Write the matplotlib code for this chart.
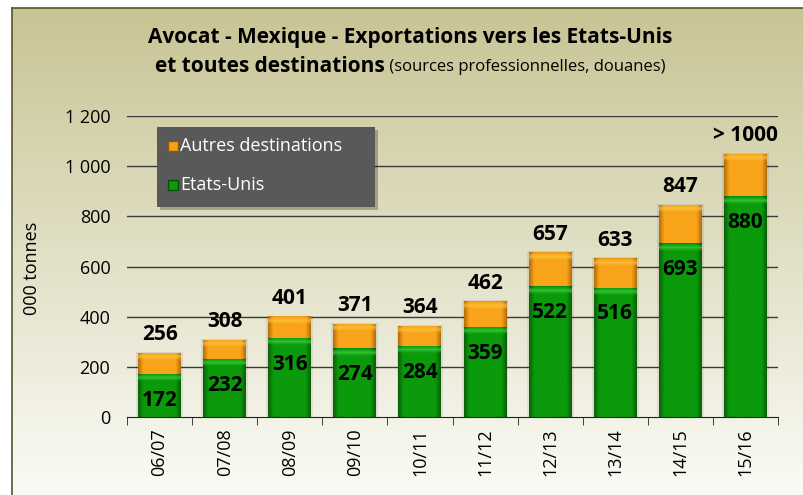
import numpy as np
import matplotlib
matplotlib.use('Agg')
from matplotlib import pyplot as plt
from matplotlib.patches import Rectangle
from matplotlib.colors import to_rgb

seasons = ['06/07', '07/08', '08/09', '09/10', '10/11', '11/12', '12/13', '13/14', '14/15', '15/16']
usa = [172, 232, 316, 274, 284, 359, 522, 516, 693, 880]
total = [256, 308, 401, 371, 364, 462, 657, 633, 847, 1050]
total_labels = ['256', '308', '401', '371', '364', '462', '657', '633', '847', '> 1000']
others = [t - u for t, u in zip(total, usa)]

W, H = 804, 495
fig = plt.figure(figsize=(W / 100, H / 100), dpi=100)

font_txt = ['Open Sans', 'DejaVu Sans']
font_title = ['Open Sans', 'DejaVu Sans']

# background with gradient + frame
bg = fig.add_axes([12 / W, 0, 1, 1 - 8 / H], zorder=-5)
top_c = np.array(to_rgb('#c8c494'))
bot_c = np.array(to_rgb('#fbfbf6'))
t = np.linspace(0, 1, 256)[:, None]
img = top_c * (1 - t[..., None]) + bot_c * t[..., None]
img = np.repeat(img, 2, axis=1)
bg.imshow(img, aspect='auto', extent=[0, 1, 0, 1])
bg.set_xlim(0, 1)
bg.set_ylim(0, 1)
bg.set_xticks([])
bg.set_yticks([])
for s in ['right', 'bottom']:
    bg.spines[s].set_visible(False)
for s in ['left', 'top']:
    bg.spines[s].set_color('#55552e')
    bg.spines[s].set_linewidth(1.2)

ax = fig.add_axes([127 / W, 1 - 417 / H, (778 - 127) / W, (417 - 116) / H])
ax.set_facecolor('none')
x = np.arange(len(seasons))
bw = 0.66


def grad_bar(bottom, height, dark, mid, light):
    bars = ax.bar(x, height, bw, bottom=bottom, color=mid, edgecolor='none', zorder=3)
    d = np.array(to_rgb(dark))
    m = np.array(to_rgb(mid))
    li = np.array(to_rgb(light))
    u = np.linspace(0, 1, 60)
    edge = np.clip(np.minimum(u, 1 - u) / 0.12, 0, 1)
    row = d * (1 - edge[:, None]) + m * edge[:, None]
    for b in bars:
        h = b.get_height()
        if h <= 0:
            continue
        px_h = max(int(h * 0.25), 4)
        v = np.linspace(0, 1, px_h)
        top = np.clip(1 - np.abs(v * px_h - 4) / 3.5, 0, 1) * 0.7
        im = row[None, :, :] * (1 - top[:, None, None]) + li * top[:, None, None]
        im[:1] = im[:1] * 0.8 + d * 0.2
        x0 = b.get_x()
        y0 = b.get_y()
        ax.add_patch(Rectangle((x0 - 0.03, y0), b.get_width() + 0.06, h + 3,
                               facecolor='#000000', alpha=0.08, edgecolor='none', zorder=2))
        art = ax.imshow(im, extent=[x0, x0 + b.get_width(), y0, y0 + h],
                        aspect='auto', zorder=4, interpolation='bilinear')
        art.set_clip_path(b)
    return bars


for yv in range(200, 1201, 200):
    ax.axhline(yv, color='#3a3a3a', lw=1, zorder=1)

grad_bar(0, usa, '#0a5f0a', '#0b9a0b', '#3fd23f')
grad_bar(usa, others, '#b56d0a', '#f9a41a', '#ffc73f')

ax.set_xlim(-0.5, len(seasons) - 0.5)
ax.set_ylim(0, 1200)

for i in range(len(seasons)):
    ax.annotate(str(usa[i]), (x[i], usa[i]), xytext=(0, -19), textcoords='offset points',
                ha='center', va='center', fontsize=15, fontweight='bold',
                family=font_txt, color='black', zorder=6)
    ax.annotate(total_labels[i], (x[i], total[i]), xytext=(0, 13), textcoords='offset points',
                ha='center', va='center', fontsize=15, fontweight='bold',
                family=font_txt, color='black', zorder=6)

ax.set_yticks(range(0, 1201, 200))
ax.set_yticklabels(['0', '200', '400', '600', '800', '1 000', '1 200'], family=font_txt, fontsize=13)
ax.tick_params(axis='y', length=0, pad=12)
ax.set_xticks(x)
ax.set_xticklabels(seasons, rotation=90, family=font_txt, fontsize=13)
ax.set_xticks(np.arange(-0.5, len(seasons), 1), minor=True)
ax.tick_params(axis='x', which='major', length=0, pad=8)
ax.tick_params(axis='x', which='minor', length=6, color='#222222', direction='out')
for s in ['left', 'right', 'top']:
    ax.spines[s].set_visible(False)
ax.spines['bottom'].set_color('#222222')
ax.spines['bottom'].set_zorder(5)

fig.text(32 / W, 1 - 268 / H, '000 tonnes', rotation=90, ha='center', va='center',
         family=font_txt, fontsize=13)

# title
fig.text(410 / W, 1 - 38 / H, 'Avocat - Mexique - Exportations vers les Etats-Unis',
         ha='center', va='center', fontsize=15, fontweight='bold', family=font_title)
t1 = fig.text(0, 1 - 67 / H, 'et toutes destinations', ha='left', va='center',
              fontsize=15, fontweight='bold', family=font_title)
t2 = fig.text(0, 1 - 67 / H, ' (sources professionnelles, douanes)', ha='left', va='center',
              fontsize=12, family=font_title)
fig.canvas.draw()
r = fig.canvas.get_renderer()
w1 = t1.get_window_extent(r).width
w2 = t2.get_window_extent(r).width
start = 410 - (w1 + w2) / 2
t1.set_x(start / W)
t2.set_x((start + w1) / W)

# legend box
fig.patches.append(Rectangle((160 / W, 1 - 210 / H), 218 / W, 80 / H, transform=fig.transFigure,
                             facecolor='#000000', alpha=0.25, edgecolor='none', zorder=7))
fig.patches.append(Rectangle((157 / W, 1 - 207 / H), 218 / W, 80 / H, transform=fig.transFigure,
                             facecolor='#595959', edgecolor='none', zorder=8))
for yy, label, col, ec in [(146, 'Autres destinations', '#f4a21a', '#8a5a10'),
                           (185, 'Etats-Unis', '#0a9a0a', '#064f06')]:
    fig.patches.append(Rectangle((168 / W, 1 - (yy + 5) / H), 10 / W, 10 / H,
                                 transform=fig.transFigure, facecolor=col, edgecolor=ec,
                                 lw=1, zorder=9))
    fig.text(180 / W, 1 - yy / H, label, ha='left', va='center', color='white',
             fontsize=13, family=font_txt, zorder=10)

fig.savefig('out.png', dpi=100)
